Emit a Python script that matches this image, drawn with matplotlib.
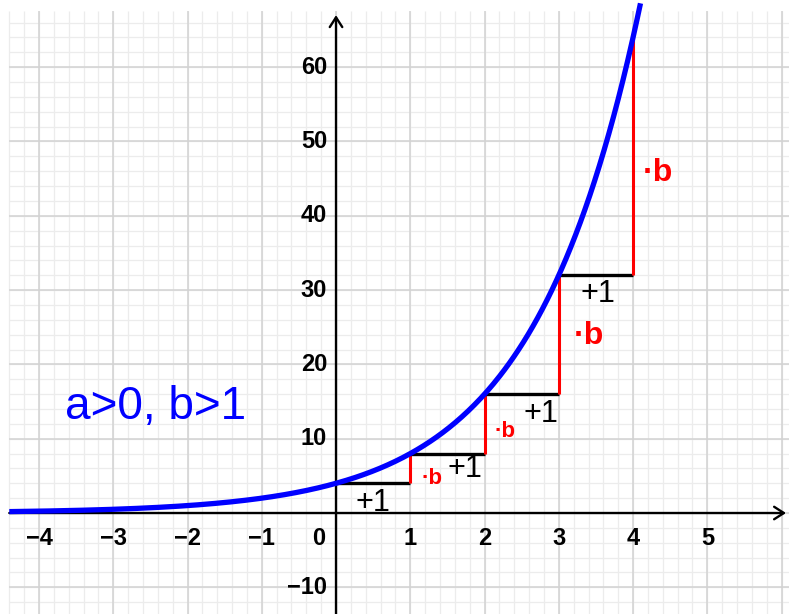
import numpy as np
import matplotlib.pyplot as plt

# exponential y = a * b**x
a_val = 4
b_val = 2

# step points on the curve
step_x = [0, 1, 2, 3, 4]
step_y = [4, 8, 16, 32, 64]

x_ticks = [-4, -3, -2, -1, 1, 2, 3, 4, 5]
y_ticks = [-10, 10, 20, 30, 40, 50, 60]

# label positions (data coords)
plus_pos = [(0.50, 1.4), (1.74, 5.9), (2.76, 13.3), (3.53, 29.5)]
mult_pos = [(1.29, 4.6), (2.27, 11.0), (3.40, 23.8), (4.34, 45.8)]
mult_size = [16, 16, 23, 23]

X_LO, X_HI = -4.40, 6.10
Y_LO, Y_HI = -13.6, 67.6

plt.rcParams["font.family"] = ["Liberation Sans", "DejaVu Sans"]

fig = plt.figure(figsize=(7.89, 6.14), dpi=100)
ax = fig.add_axes([0, 0, 1, 1])
ax.set_xlim(-4.525, 6.10)
ax.set_ylim(-13.59, 69.04)
ax.axis("off")

# grid
minor_x = np.arange(-4.4, 6.11, 0.2)
minor_y = np.arange(-12, 67.7, 2)
ax.vlines(minor_x, Y_LO, Y_HI, color="#ececec", lw=0.9, zorder=0)
ax.hlines(minor_y, X_LO, X_HI, color="#ececec", lw=0.9, zorder=0)
major_x = np.arange(-4, 7, 1)
major_y = np.arange(-10, 61, 10)
ax.vlines(major_x, Y_LO, Y_HI, color="#d2d2d2", lw=1.1, zorder=1)
ax.hlines(major_y, X_LO, X_HI, color="#d2d2d2", lw=1.1, zorder=1)

# axes with arrows
ax.annotate("", xy=(6.06, 0), xytext=(X_LO, 0),
            arrowprops=dict(arrowstyle="->,head_length=0.7,head_width=0.45",
                            lw=1.7, color="black", shrinkA=0, shrinkB=0), zorder=3)
ax.annotate("", xy=(0, 67.0), xytext=(0, Y_LO),
            arrowprops=dict(arrowstyle="->,head_length=0.7,head_width=0.45",
                            lw=1.7, color="black", shrinkA=0, shrinkB=0), zorder=3)

# tick labels
for t in x_ticks:
    ax.text(t, -3.4, "\u2212" + str(-t) if t < 0 else str(t), ha="center", va="center",
            fontsize=17, fontweight="bold", zorder=4)
ax.text(-0.24, -3.4, "0", ha="center", va="center", fontsize=17, fontweight="bold", zorder=4)
for t in y_ticks:
    ax.text(-0.12, t, "\u2212" + str(-t) if t < 0 else str(t), ha="right", va="center",
            fontsize=17, fontweight="bold", zorder=4)

# curve
xs = np.linspace(X_LO, 4.1, 400)
ax.plot(xs, a_val * b_val ** xs, color="#0000ff", lw=3.8, zorder=5,
        solid_capstyle="butt")

# steps
for i in range(len(step_x) - 1):
    ax.plot([step_x[i], step_x[i + 1]], [step_y[i], step_y[i]],
            color="black", lw=2.4, zorder=4, solid_capstyle="butt")
    ax.plot([step_x[i + 1], step_x[i + 1]], [step_y[i], step_y[i + 1]],
            color="#ff0000", lw=2.2, zorder=4, solid_capstyle="butt")

for (px, py) in plus_pos:
    ax.text(px, py, "+1", ha="center", va="center", fontsize=22, zorder=6)
for (px, py), fs in zip(mult_pos, mult_size):
    ax.text(px, py, "\u00b7b", ha="center", va="center", fontsize=fs,
            fontweight="bold", color="#ff0000", zorder=6)

ax.text(-3.65, 14.3, "a>0, b>1", ha="left", va="center", fontsize=33,
        color="#0000ff", zorder=6)

fig.savefig("out.png", dpi=100)
